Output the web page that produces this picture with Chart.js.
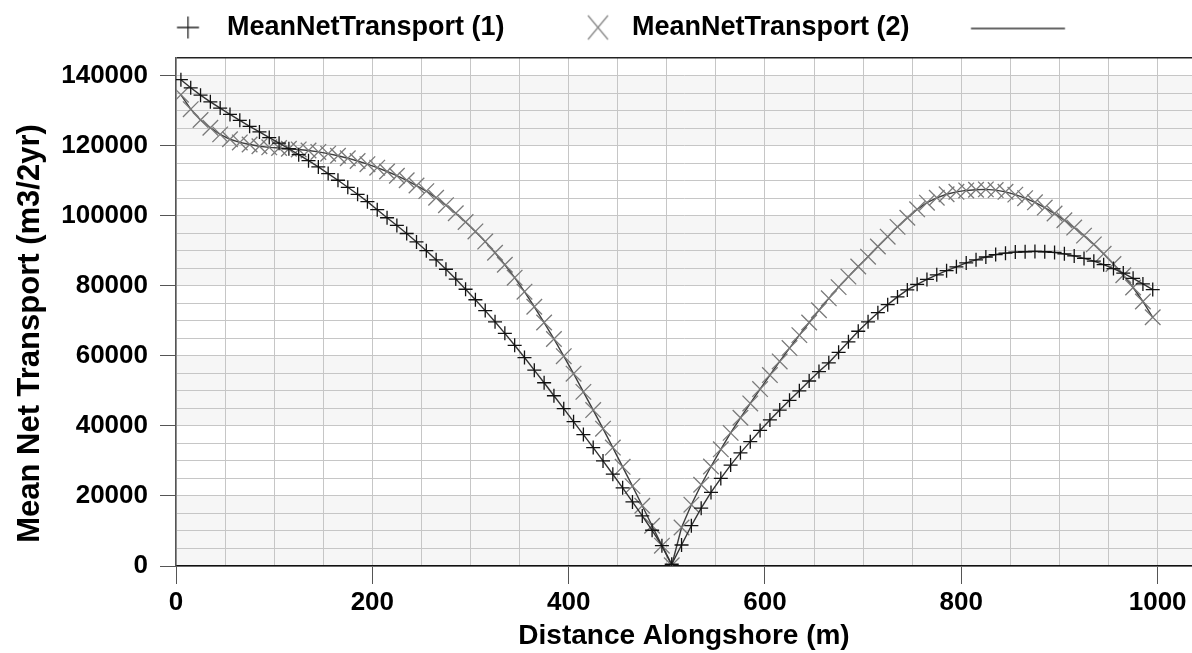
<!DOCTYPE html>
<html>
<head>
<meta charset="utf-8">
<script src="https://cdn.jsdelivr.net/npm/chart.js@4/dist/chart.umd.min.js"></script>
<style>
  html, body { margin: 0; padding: 0; background: #fff; overflow: hidden; }
  #chart { display: block; }
</style>
</head>
<body>
<canvas id="chart" width="1192" height="653"></canvas>
<script>
// --- data ---
const distance = [5, 15, 25, 35, 45, 55, 65, 75, 85, 95,
    105, 115, 125, 135, 145, 155, 165, 175, 185, 195,
    205, 215, 225, 235, 245, 255, 265, 275, 285, 295,
    305, 315, 325, 335, 345, 355, 365, 375, 385, 395,
    405, 415, 425, 435, 445, 455, 465, 475, 485, 495,
    505, 515, 525, 535, 545, 555, 565, 575, 585, 595,
    605, 615, 625, 635, 645, 655, 665, 675, 685, 695,
    705, 715, 725, 735, 745, 755, 765, 775, 785, 795,
    805, 815, 825, 835, 845, 855, 865, 875, 885, 895,
    905, 915, 925, 935, 945, 955, 965, 975, 985, 995];

const transport1 = [138800, 136500, 134400, 132500, 130700, 128900, 127200, 125500, 123900, 122300,
    120700, 119100, 117400, 115700, 113900, 112000, 110100, 108100, 106100, 104000,
    101700, 99400, 97200, 94900, 92500, 90000, 87400, 84700, 81900, 79000,
    76000, 72900, 69700, 66400, 63000, 59500, 55900, 52300, 48600, 44900,
    41200, 37500, 33800, 30000, 26200, 22300, 18300, 14300, 10200, 5800,
    500, 6000, 11500, 16500, 21000, 25000, 28800, 32300, 35500, 38700,
    41700, 44500, 47300, 50000, 52800, 55500, 58000, 61000, 64000, 67000,
    69700, 72300, 74600, 76800, 78800, 80400, 81800, 83100, 84300, 85400,
    86500, 87400, 88200, 88900, 89300, 89600, 89700, 89800, 89700, 89500,
    89100, 88500, 87800, 87000, 86000, 84900, 83600, 82100, 80500, 78900];

const transport2 = [134500, 130400, 127300, 125100, 123200, 121800, 120900, 120300, 119800, 119500,
    119300, 119100, 118900, 118600, 118200, 117700, 117100, 116400, 115600, 114700,
    113700, 112600, 111400, 110100, 108600, 107000, 105100, 103000, 100700, 98200,
    95500, 92600, 89400, 86000, 82300, 78300, 74000, 69500, 64800, 59900,
    54900, 49700, 44500, 39200, 33800, 28300, 22800, 17200, 11500, 5800,
    200, 11000, 17500, 23200, 28400, 33300, 38000, 42300, 46400, 50500,
    54500, 58400, 62200, 65900, 69500, 73000, 76400, 79600, 82600, 85500,
    88300, 91200, 94000, 96800, 99400, 101800, 103700, 105100, 106100, 106800,
    107200, 107400, 107500, 107300, 106800, 106000, 105000, 103800, 102300, 100600,
    98700, 96600, 94300, 91800, 89100, 86200, 83000, 79500, 75500, 71000];

const xTickLabels = [0, 200, 400, 600, 800, 1000];
const yTickLabels = [0, 20000, 40000, 60000, 80000, 100000, 120000, 140000];
const seriesLabels = ['MeanNetTransport (1)', 'MeanNetTransport (2)', ''];
const xTitle = 'Distance Alongshore (m)';
const yTitle = 'Mean Net Transport (m3/2yr)';

// --- look ---
const FONT = '"Liberation Sans", Arial, sans-serif';
const legendSize = 27;
const gridColor = '#c6c6c6';
const bandColor = '#f6f6f6';
const yMax = 145000;
const xMax = 1035;

// legend geometry: text of item 1 starts at x=227, item 2 at x=632
const meas = document.createElement('canvas').getContext('2d');
meas.font = 'bold ' + legendSize + 'px ' + FONT;
const T1 = meas.measureText(seriesLabels[0]).width;
const T2 = meas.measureText(seriesLabels[1]).width;
const half = legendSize / 2;
const K = 632 - 227 - half - T1;            // W + p
const S = 3 * K + 3 * half + T1 + T2;       // whole legend row
const M = 227 - half - (1192 - S) / 2;      // W + p/2
const legPad = 2 * (K - M);
const legW = 2 * M - K;
const c1 = 227 - half - legW / 2;
const c2 = 632 - half - legW / 2;
const c3 = 632 + T2 + legPad + legW / 2;

function legendImage(kind, dx, x0, x1) {
    const c = document.createElement('canvas');
    const span = kind === 'line' ? Math.max(Math.abs(x0), Math.abs(x1)) + 4 : Math.abs(dx) + 16;
    c.width = Math.ceil(span * 2);
    c.height = 30;
    const g = c.getContext('2d');
    const cx = c.width / 2, cy = 15;
    g.lineWidth = 1.3;
    g.beginPath();
    if (kind === 'cross') {
        g.strokeStyle = '#222';
        g.moveTo(cx + dx - 11, cy); g.lineTo(cx + dx + 11, cy);
        g.moveTo(cx + dx, cy - 11); g.lineTo(cx + dx, cy + 11);
    } else if (kind === 'crossRot') {
        g.strokeStyle = '#888';
        g.moveTo(cx + dx - 10, cy - 12); g.lineTo(cx + dx + 10, cy + 12);
        g.moveTo(cx + dx + 10, cy - 12); g.lineTo(cx + dx - 10, cy + 12);
    } else {
        g.strokeStyle = '#333';
        g.moveTo(cx + x0, cy + 1); g.lineTo(cx + x1, cy + 1);
    }
    g.stroke();
    return c;
}

const legendMarks = [
    legendImage('cross', 188 - c1),
    legendImage('crossRot', 598 - c2),
    legendImage('line', 0, 971 - c3, 1065 - c3)
];

// shaded 20000-high bands behind the grid
const bandPlugin = {
    id: 'bands',
    beforeDraw(chart) {
        const { ctx, chartArea: a, scales: { y } } = chart;
        ctx.save();
        ctx.fillStyle = bandColor;
        for (let v = 0; v < yMax; v += 40000) {
            const top = y.getPixelForValue(Math.min(v + 20000, yMax));
            const bot = y.getPixelForValue(v);
            ctx.fillRect(a.left, top, a.right - a.left, bot - top);
        }
        ctx.restore();
    }
};

const points1 = distance.map((d, i) => ({ x: d, y: transport1[i] }));
const points2 = distance.map((d, i) => ({ x: d, y: transport2[i] }));

new Chart(document.getElementById('chart'), {
    type: 'line',
    data: {
        datasets: [{
            label: seriesLabels[0],
            data: points1,
            borderColor: '#333',
            borderWidth: 1.4,
            pointStyle: 'cross',
            pointRadius: 7,
            pointBorderColor: '#111',
            pointBorderWidth: 1.3,
            pointHoverRadius: 7,
            fill: false,
            tension: 0
        }, {
            label: seriesLabels[1],
            data: points2,
            borderColor: '#3c3c3c',
            borderWidth: 1.4,
            pointStyle: 'crossRot',
            pointRadius: 11,
            pointBorderColor: '#7a7a7a',
            pointBorderWidth: 1.3,
            pointHoverRadius: 11,
            fill: false,
            tension: 0
        }]
    },
    options: {
        responsive: false,
        animation: false,
        events: [],
        layout: { autoPadding: false, padding: { top: 14 - legPad, left: 0, right: 0, bottom: 0 } },
        plugins: {
            tooltip: { enabled: false },
            // empty spacer between the legend and the plot
            subtitle: {
                display: true,
                text: '',
                position: 'top',
                weight: 500,
                padding: 0,
                font: { size: 7, lineHeight: 1 }
            },
            legend: {
                position: 'top',
                labels: {
                    usePointStyle: true,
                    pointStyleWidth: legW,
                    boxHeight: 16,
                    padding: legPad,
                    color: '#000',
                    font: { family: FONT, size: legendSize, weight: 'bold' },
                    generateLabels: () => seriesLabels.map((t, i) => ({
                        text: t,
                        pointStyle: legendMarks[i],
                        fillStyle: 'transparent',
                        strokeStyle: 'transparent',
                        lineWidth: 0,
                        hidden: false,
                        datasetIndex: i
                    }))
                }
            }
        },
        scales: {
            x: {
                type: 'linear',
                min: 0,
                max: xMax,
                afterFit: (s) => { s.height = 87; },
                afterBuildTicks: (s) => {
                    const t = [];
                    for (let v = 0; v <= xTickLabels[xTickLabels.length - 1]; v += 50) t.push({ value: v });
                    s.ticks = t;
                },
                ticks: {
                    autoSkip: false,
                    maxRotation: 0,
                    padding: 3,
                    color: '#000',
                    font: { family: FONT, size: 26, weight: 'bold' },
                    callback: (v) => (xTickLabels.includes(v) ? String(v) : '')
                },
                grid: {
                    color: gridColor,
                    lineWidth: 1,
                    tickLength: 18,
                    tickColor: (c) => (c.tick && xTickLabels.includes(c.tick.value) ? '#555' : 'rgba(0,0,0,0)')
                },
                border: { color: '#111', width: 1.5 },
                title: {
                    display: true,
                    text: xTitle,
                    color: '#000',
                    padding: { top: 0, bottom: 0 },
                    font: { family: FONT, size: 28, weight: 'bold' }
                }
            },
            y: {
                min: 0,
                max: yMax,
                afterFit: (s) => { s.width = 176; },
                ticks: {
                    stepSize: 5000,
                    autoSkip: false,
                    padding: 12,
                    color: '#000',
                    font: { family: FONT, size: 26, weight: 'bold' },
                    callback: (v) => (yTickLabels.includes(v) ? String(v) : '')
                },
                grid: {
                    color: (c) => (c.tick && c.tick.value === yMax ? '#222' : gridColor),
                    lineWidth: (c) => (c.tick && c.tick.value === yMax ? 1.5 : 1),
                    tickLength: 16,
                    tickColor: (c) => (c.tick && yTickLabels.includes(c.tick.value) ? '#555' : 'rgba(0,0,0,0)')
                },
                border: { color: '#555', width: 1.5 },
                title: {
                    display: true,
                    text: yTitle + '     ',
                    color: '#000',
                    padding: { top: 12, bottom: 0 },
                    font: { family: FONT, size: 31, weight: 'bold' }
                }
            }
        }
    },
    plugins: [bandPlugin]
});
</script>
</body>
</html>
